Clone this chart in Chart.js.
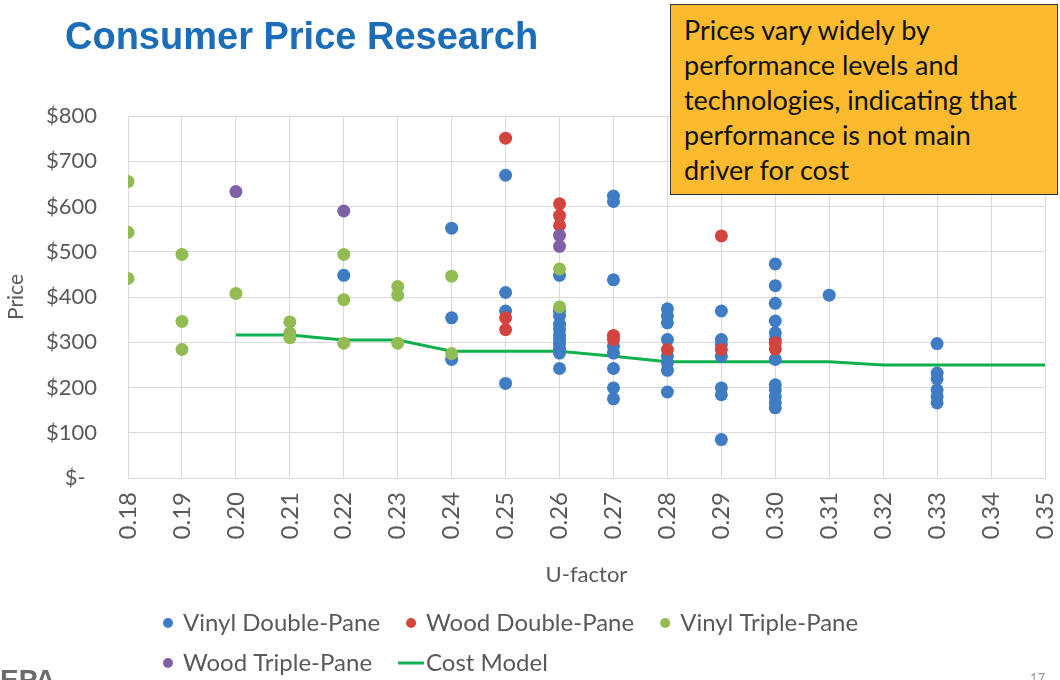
<!DOCTYPE html>
<html>
<head>
<meta charset="utf-8">
<script src="https://cdn.jsdelivr.net/npm/chart.js@4.4.0/dist/chart.umd.min.js"></script>
<style>
  body { margin: 0; background: #fff; }
  #wrap { position: relative; width: 1060px; height: 680px; overflow: hidden; }
  #chart { position: absolute; left: 0; top: 0; }
  #title { position: absolute; left: 65px; top: 15px; font: bold 38px "Liberation Sans", Arial, sans-serif; color: #1a6db6; }
  #note { position: absolute; left: 670px; top: 4px; width: 388px; height: 191px; box-sizing: border-box;
          background: #fcbb2f; border: 1.5px solid #333; padding: 7px 0 0 13px;
          font: 27px Lato, sans-serif; line-height: 35px; color: #111; }
  #epa { position: absolute; left: 0; top: 664px; font: bold 28px "Liberation Sans", Arial, sans-serif; color: #6b6b6b; }
  #page { position: absolute; left: 1030px; top: 670px; font: 13px Lato, sans-serif; color: #999; }
</style>
</head>
<body>
<div id="wrap">
  <canvas id="chart" width="1060" height="680"></canvas>
  <div id="title">Consumer Price Research</div>
  <div id="note">Prices vary widely by<br>performance levels and<br>technologies, indicating that<br>performance is not main<br>driver for cost</div>
  <div id="epa">EPA</div>
  <div id="page">17</div>
</div>
<script>
// [U-factor, price]
const vinylDouble = [
  [0.22, 448],
  [0.24, 552], [0.24, 354], [0.24, 262],
  [0.25, 669], [0.25, 410], [0.25, 369], [0.25, 209],
  [0.26, 448], [0.26, 369], [0.26, 358], [0.26, 340], [0.26, 328], [0.26, 315], [0.26, 306],
  [0.26, 296], [0.26, 285], [0.26, 276], [0.26, 242],
  [0.27, 623], [0.27, 611], [0.27, 438], [0.27, 291], [0.27, 276], [0.27, 242], [0.27, 199], [0.27, 175],
  [0.28, 374], [0.28, 358], [0.28, 343], [0.28, 306], [0.28, 269], [0.28, 254], [0.28, 238], [0.28, 190],
  [0.29, 369], [0.29, 306], [0.29, 295], [0.29, 269], [0.29, 199], [0.29, 184], [0.29, 85],
  [0.30, 473], [0.30, 425], [0.30, 386], [0.30, 347], [0.30, 321], [0.30, 306], [0.30, 262],
  [0.30, 206], [0.30, 195], [0.30, 180], [0.30, 166], [0.30, 155],
  [0.31, 404],
  [0.33, 297], [0.33, 232], [0.33, 219], [0.33, 195], [0.33, 180], [0.33, 166]
];
const woodDouble = [
  [0.25, 751], [0.25, 354], [0.25, 328],
  [0.26, 606], [0.26, 580], [0.26, 558],
  [0.27, 315], [0.27, 306],
  [0.28, 284],
  [0.29, 535], [0.29, 284],
  [0.30, 299], [0.30, 285]
];
const vinylTriple = [
  [0.18, 655], [0.18, 543], [0.18, 441],
  [0.19, 494], [0.19, 346], [0.19, 284],
  [0.20, 408],
  [0.21, 345], [0.21, 320], [0.21, 310],
  [0.22, 494], [0.22, 394], [0.22, 298],
  [0.23, 423], [0.23, 404], [0.23, 298],
  [0.24, 446], [0.24, 275],
  [0.26, 462], [0.26, 378]
];
const woodTriple = [
  [0.20, 633], [0.22, 590], [0.26, 536], [0.26, 512]
];
const costModelU = [0.20, 0.21, 0.22, 0.23, 0.24, 0.25, 0.26, 0.27, 0.28, 0.29, 0.30, 0.31, 0.32, 0.33, 0.34, 0.35];
const costModelPrice = [316, 316, 305, 305, 280, 280, 280, 269, 257, 257, 257, 257, 250, 250, 250, 250];

const seriesNames = ['Vinyl Double-Pane', 'Wood Double-Pane', 'Vinyl Triple-Pane', 'Wood Triple-Pane', 'Cost Model'];
const seriesColors = ['#3f7cc4', '#d4443f', '#92bb53', '#7f5fa6', '#10b04e'];

const toPoints = (list) => list.map((p) => ({ x: p[0], y: p[1] }));

const textColor = '#595959';
const gridColor = '#d9d9d9';
Chart.defaults.font.family = 'Lato, sans-serif';
Chart.defaults.color = textColor;

const dotSet = (i, list) => ({
  label: seriesNames[i],
  data: toPoints(list),
  backgroundColor: seriesColors[i],
  borderColor: seriesColors[i],
  pointRadius: 6.5,
  pointHoverRadius: 6.5,
  borderWidth: 0,
  order: 4 - i
});

// Excel-style legend: two left-aligned rows under the axis title
const legendRows = [[0, 1, 2], [3, 4]];
const excelLegend = {
  id: 'excelLegend',
  afterDraw(chart) {
    const ctx = chart.ctx;
    ctx.save();
    ctx.font = '24px Lato, sans-serif';
    ctx.textBaseline = 'middle';
    legendRows.forEach((row, r) => {
      let x = 163;
      const y = 623 + r * 40;
      row.forEach((i) => {
        const ds = chart.data.datasets[i];
        if (ds.showLine) {
          ctx.fillStyle = ds.borderColor;
          ctx.fillRect(x, y - 1.5, 26, 3);
          x += 28;
        } else {
          ctx.fillStyle = ds.backgroundColor;
          ctx.beginPath();
          ctx.arc(x + 5, y, 5, 0, Math.PI * 2);
          ctx.fill();
          x += 20;
        }
        ctx.fillStyle = textColor;
        ctx.fillText(ds.label, x, y);
        x += ctx.measureText(ds.label).width + 26;
      });
    });
    ctx.restore();
  }
};

new Chart(document.getElementById('chart'), {
  type: 'scatter',
  data: {
    datasets: [
      dotSet(0, vinylDouble),
      dotSet(1, woodDouble),
      dotSet(2, vinylTriple),
      dotSet(3, woodTriple),
      {
        label: seriesNames[4],
        data: costModelU.map((u, i) => ({ x: u, y: costModelPrice[i] })),
        showLine: true,
        borderColor: seriesColors[4],
        backgroundColor: seriesColors[4],
        borderWidth: 3,
        pointRadius: 0,
        order: 5
      }
    ]
  },
  options: {
    responsive: false,
    animation: false,
    layout: { padding: { left: 0, right: 15, top: 116, bottom: 92 } },
    plugins: {
      tooltip: { enabled: false },
      legend: { display: false }
    },
    scales: {
      x: {
        type: 'linear',
        min: 0.18,
        max: 0.35,
        afterFit: (scale) => {
          scale.height = 110;
          scale.paddingRight = 0;
        },
        grid: { color: gridColor, drawTicks: false },
        border: { color: gridColor },
        ticks: {
          stepSize: 0.01,
          autoSkip: false,
          minRotation: 90,
          maxRotation: 90,
          padding: 14,
          font: { size: 24 },
          callback: (v) => v.toFixed(2)
        },
        title: { display: true, text: 'U-factor', font: { size: 22 }, padding: { top: 10, bottom: 0 } }
      },
      y: {
        min: 0,
        max: 800,
        afterFit: (scale) => { scale.width = 128; },
        grid: { color: gridColor, drawTicks: false },
        border: { color: gridColor },
        ticks: {
          stepSize: 100,
          padding: 31,
          font: { size: 22 },
          callback: (v) => (v === 0 ? '$-  ' : '$' + v)
        },
        title: { display: true, text: 'Price', font: { size: 21 }, padding: { bottom: 4 } }
      }
    }
  },
  plugins: [excelLegend]
});
</script>
</body>
</html>
